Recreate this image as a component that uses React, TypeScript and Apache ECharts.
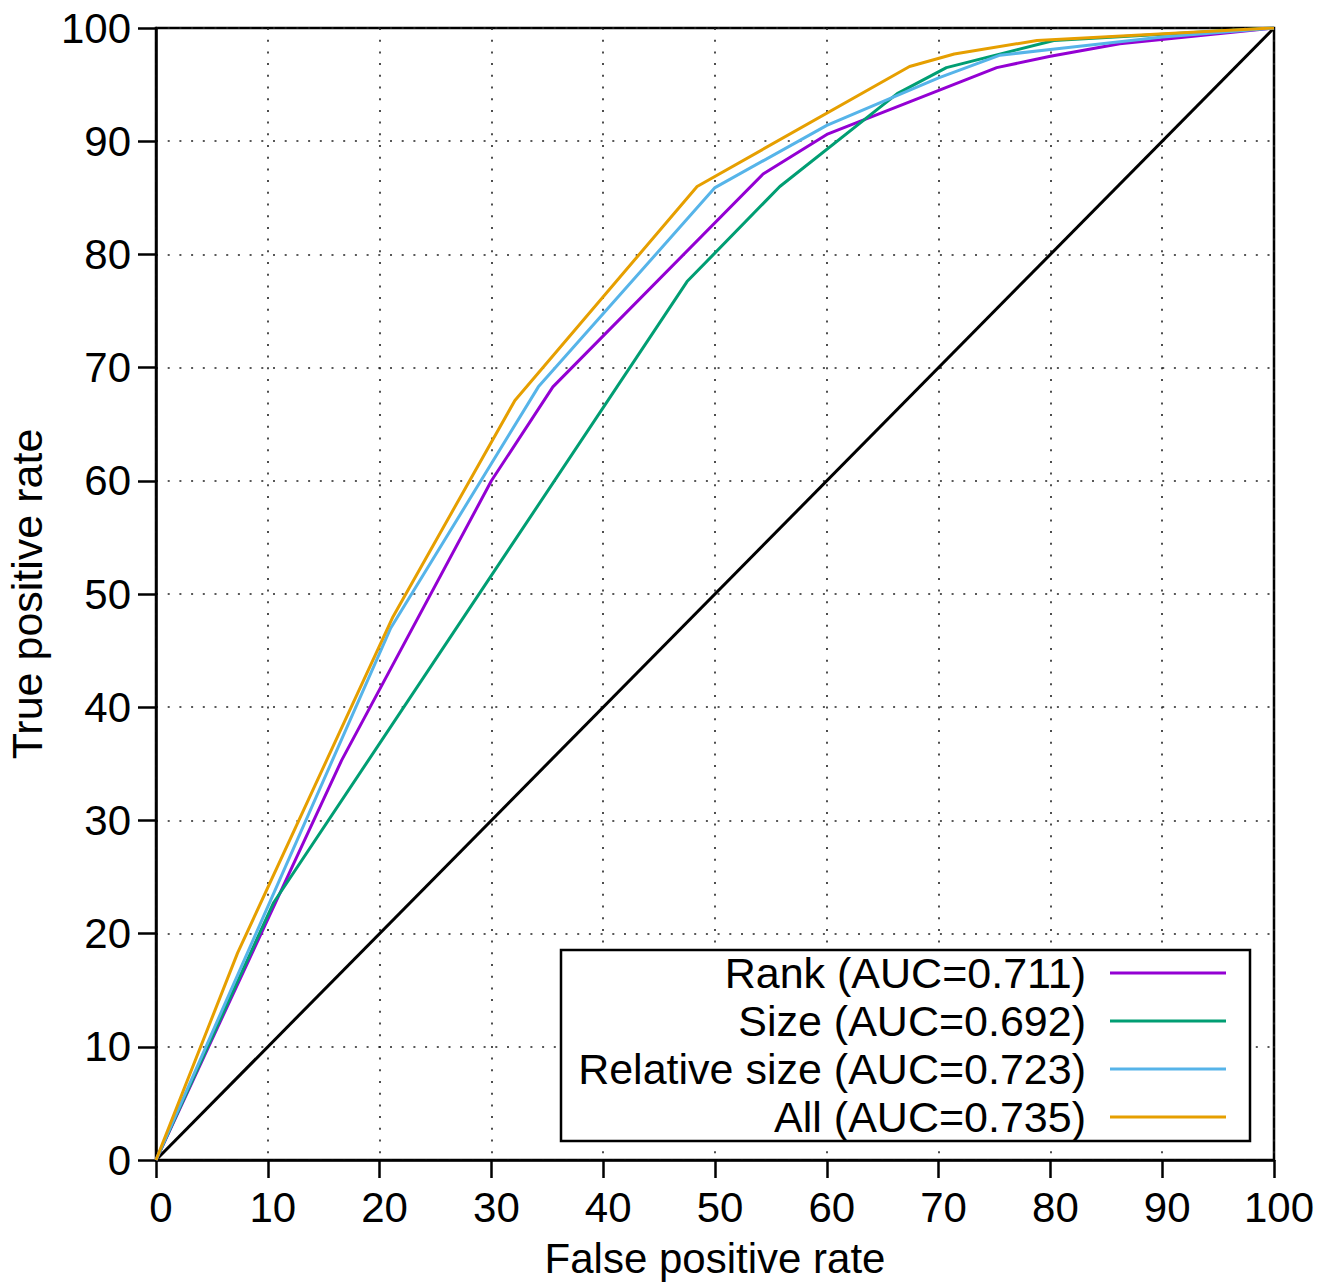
import React, { useEffect, useRef } from "react";
import * as echarts from "echarts";

const seriesNames = [
  "Rank (AUC=0.711)",
  "Size (AUC=0.692)",
  "Relative size (AUC=0.723)",
  "All (AUC=0.735)",
];
const seriesColors = ["#9400D3", "#009E73", "#56B4E9", "#E69F00"];

const rankFpr = [0, 16.6, 30, 35.5, 54.3, 60, 75.2, 80, 86.2, 100];
const rankTpr = [0, 35.3, 60, 68.3, 87.1, 90.6, 96.5, 97.5, 98.6, 100];

const sizeFpr = [0, 10.5, 47.5, 55.8, 66.3, 70.7, 80.3, 100];
const sizeTpr = [0, 22.7, 77.6, 86, 94.2, 96.5, 98.9, 100];

const relFpr = [0, 21, 34.2, 50, 60, 70, 75.5, 80, 90, 100];
const relTpr = [0, 47, 68.3, 85.9, 91.4, 95.6, 97.6, 98.1, 99.2, 100];

const allFpr = [0, 7.3, 21.2, 32.1, 48.4, 67.4, 71.4, 78.8, 100];
const allTpr = [0, 18.3, 48, 67.1, 86, 96.6, 97.7, 98.9, 100];

const diagFpr = [0, 100];
const diagTpr = [0, 100];

const xTitle = "False positive rate";
const yTitle = "True positive rate";

const FONT = "Liberation Sans";

const zip = (xs: number[], ys: number[]) => xs.map((x, i) => [x, ys[i]]);

export default function App() {
  const ref = useRef<HTMLDivElement>(null);
  useEffect(() => {
    if (!ref.current) return;
    const chart = echarts.init(ref.current, null, { renderer: "svg" });
    const curves = [
      zip(rankFpr, rankTpr),
      zip(sizeFpr, sizeTpr),
      zip(relFpr, relTpr),
      zip(allFpr, allTpr),
    ];
    const axisCommon = {
      type: "value" as const,
      min: 0,
      max: 100,
      interval: 10,
      axisLine: { show: true, lineStyle: { color: "#000", width: 2.5 } },
      axisTick: { show: true, inside: false, length: 18, lineStyle: { color: "#000", width: 2.5 } },
      splitLine: { show: true, lineStyle: { color: "#222", width: 1.6, type: [2, 9.7] } },
      nameLocation: "middle" as const,
    };
    chart.setOption({
      animation: false,
      backgroundColor: "#fff",
      grid: {
        left: 156,
        top: 28,
        width: 1118,
        height: 1132,
        containLabel: false,
        outerBoundsMode: "none",
        show: true,
        borderColor: "#000",
        borderWidth: 2.5,
        backgroundColor: "transparent",
      },
      xAxis: {
        ...axisCommon,
        name: xTitle,
        nameGap: 78,
        nameTextStyle: { color: "#000", fontSize: 42, fontFamily: FONT, lineHeight: 40 },
        axisLabel: { color: "#000", fontSize: 42, fontFamily: FONT, margin: 26, padding: [0, 0, 0, 10] },
      },
      yAxis: {
        ...axisCommon,
        name: yTitle,
        nameGap: 108,
        nameTextStyle: { color: "#000", fontSize: 43, fontFamily: FONT },
        axisLabel: { color: "#000", fontSize: 42, fontFamily: FONT, margin: 25 },
      },
      legend: seriesNames.map((n, i) => ({
        data: [n],
        right: 111,
        top: 951 + 48 * i,
        orient: "horizontal",
        align: "right",
        icon: "rect",
        itemWidth: 116,
        itemHeight: 3,
        padding: 0,
        selectedMode: false,
        z: 10,
        textStyle: {
          color: "#000",
          fontSize: 43,
          fontFamily: FONT,
          lineHeight: 44,
          padding: [0, 19, 0, 0],
        },
      })),
      graphic: [
        {
          type: "rect",
          z: 5,
          shape: { x: 561, y: 950, width: 689, height: 191 },
          style: { fill: "#fff", stroke: "#000", lineWidth: 2.5 },
        },
      ],
      series: [
        {
          name: "diagonal",
          type: "line",
          data: zip(diagFpr, diagTpr),
          showSymbol: false,
          lineStyle: { color: "#000", width: 3 },
          itemStyle: { color: "#000" },
          z: 2,
        },
        ...curves.map((d, i) => ({
          name: seriesNames[i],
          type: "line",
          data: d,
          showSymbol: false,
          lineStyle: { color: seriesColors[i], width: 3 },
          itemStyle: { color: seriesColors[i] },
          z: 3,
        })),
      ],
    });
    return () => chart.dispose();
  }, []);
  return (
    <div
      ref={ref}
      style={{ position: "fixed", left: 0, top: 0, width: 1337, height: 1284 }}
    />
  );
}
